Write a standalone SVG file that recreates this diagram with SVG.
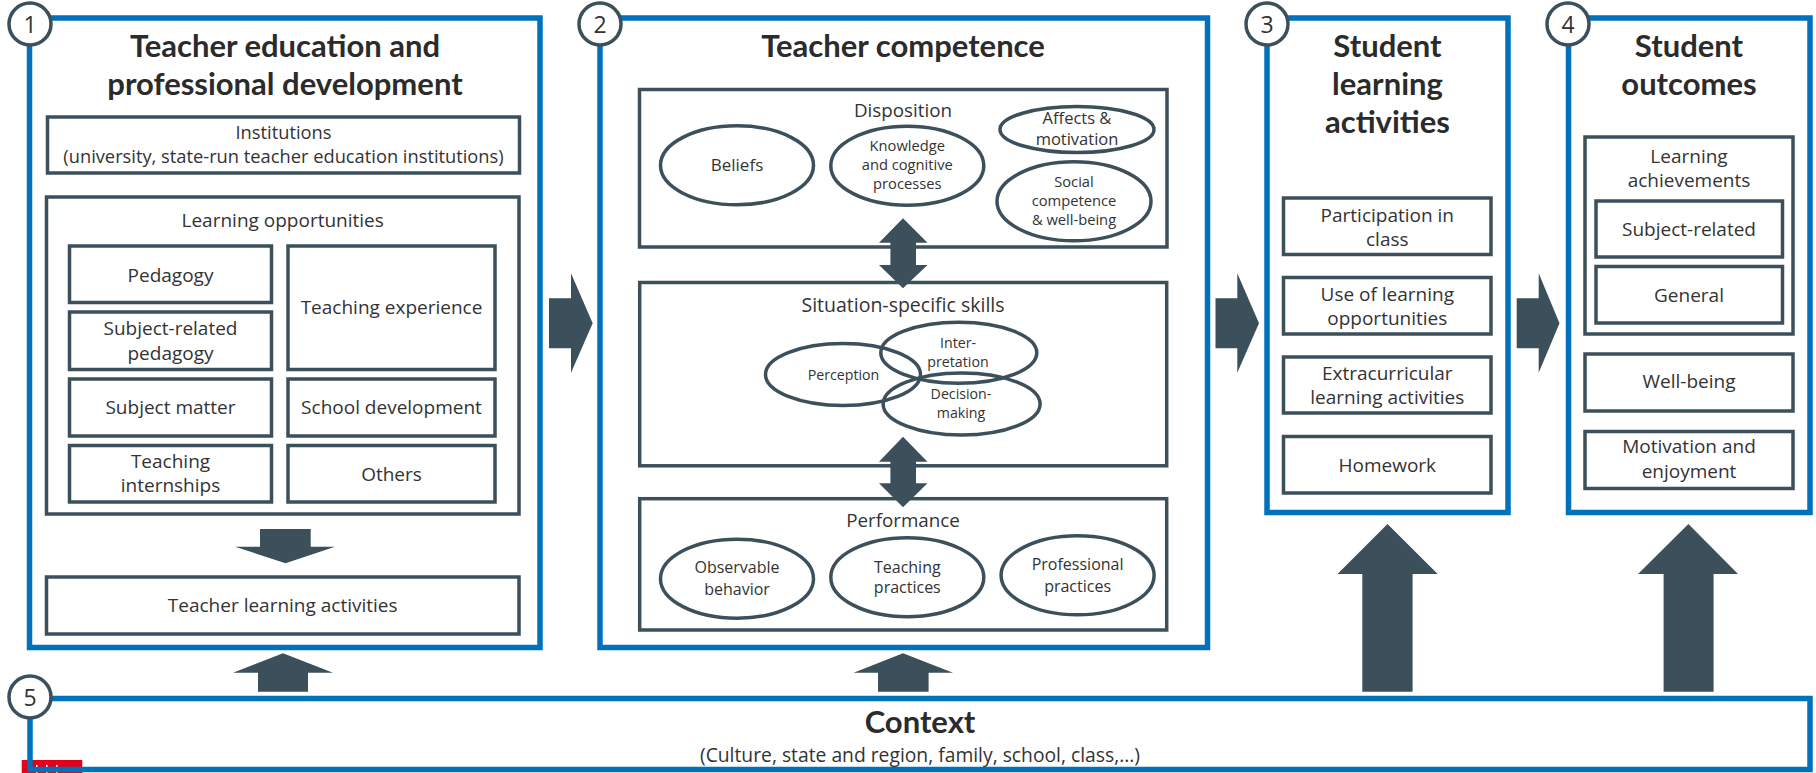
<svg xmlns="http://www.w3.org/2000/svg" width="1816" height="773" viewBox="0 0 1816 773">
  <style>
    .panel { fill: #fff; stroke: #0071bb; stroke-width: 5.5; }
    .box { fill: #fff; stroke: #3c505b; stroke-width: 3.5; }
    .oval { fill: none; stroke: #3c505b; stroke-width: 3.5; }
    .badge { fill: #fff; stroke: #3c505b; stroke-width: 3.5; }
    .arrow { fill: #3c505b; }
    text { font-family: "Open Sans", Lato, "Liberation Sans", sans-serif; fill: #333; text-anchor: middle; }
    .title { font-family: Lato, "Open Sans", sans-serif; font-size: 31px; font-weight: bold; fill: #2b2b2b; }
    .num { font-size: 23px; }
    .lbl { font-size: 19px; }
    .lbl-long { font-size: 18.3px; }
    .sec { font-size: 18.8px; }
    .sec-wide { font-size: 19.5px; }
    .ctx { font-size: 19.3px; }
    .big { font-size: 17px; }
    .md { font-size: 16px; }
    .af { font-size: 16.5px; }
    .sm { font-size: 14.7px; }
    .xs { font-size: 14.2px; }
  </style>

  <!-- logo strip at the bottom-left corner -->
  <g id="logo">
    <rect x="21.7" y="760" width="60.6" height="13" fill="#e3001b"/>
    <rect x="36" y="765" width="1.6" height="8" fill="#fff"/>
    <rect x="46" y="765" width="1.6" height="8" fill="#fff"/>
    <rect x="56" y="765" width="1.6" height="8" fill="#fff"/>
  </g>

  <!-- connectors: block arrows -->
  <g id="connectors">
    <!-- 1 -> 2 -->
    <polygon class="arrow" points="549,298.3 571,298.3 571,273.3 592.7,323.3 571,372.7 571,348.3 549,348.3"/>
    <!-- 2 -> 3 -->
    <polygon class="arrow" points="1215.5,298.3 1237.3,298.3 1237.3,273.3 1259,323.3 1237.3,372.7 1237.3,348.3 1215.5,348.3"/>
    <!-- 3 -> 4 -->
    <polygon class="arrow" points="1516.7,298.3 1538.7,298.3 1538.7,273.3 1559.5,323.3 1538.7,372.7 1538.7,348.3 1516.7,348.3"/>
    <!-- context -> panels -->
    <polygon class="arrow" points="258,691.7 308,691.7 308,672.7 333,672.7 283,653.3 233,672.7 258,672.7"/>
    <polygon class="arrow" points="878,691.7 928.6,691.7 928.6,672.7 953,672.7 903,653.3 853.6,672.7 878,672.7"/>
    <polygon class="arrow" points="1362.3,691.7 1412.6,691.7 1412.6,574 1437.7,574 1387.5,524 1337.5,574 1362.3,574"/>
    <polygon class="arrow" points="1663.6,691.7 1713.6,691.7 1713.6,574 1738,574 1688.4,524 1638,574 1663.6,574"/>
  </g>

  <!-- 1: Teacher education and professional development -->
  <g id="panel1">
    <rect class="panel" x="29.5" y="18" width="510.5" height="629.5"/>
    <text class="title" x="285" y="57">Teacher education and</text>
    <text class="title" x="285" y="95">professional development</text>
    <rect class="box" x="47.5" y="117" width="472" height="56"/>
    <text class="lbl-long" x="283.5" y="139">Institutions</text>
    <text class="lbl-long" x="283.5" y="162.8">(university, state-run teacher education institutions)</text>

    <rect class="box" x="46.5" y="197" width="472.5" height="317"/>
    <text class="lbl" x="282.7" y="226.7">Learning opportunities</text>
    <rect class="box" x="69.5" y="246" width="202" height="56.5"/>
    <text class="lbl" x="170.5" y="281.7">Pedagogy</text>
    <rect class="box" x="69.5" y="312" width="202" height="57.5"/>
    <text class="lbl" x="170.5" y="335">Subject-related</text>
    <text class="lbl" x="170.5" y="360">pedagogy</text>
    <rect class="box" x="69.5" y="379" width="202" height="57"/>
    <text class="lbl" x="170.5" y="414">Subject matter</text>
    <rect class="box" x="69.5" y="445.5" width="202" height="56.5"/>
    <text class="lbl" x="170.5" y="468">Teaching</text>
    <text class="lbl" x="170.5" y="491.7">internships</text>
    <rect class="box" x="288" y="246" width="207" height="123.5"/>
    <text class="lbl" x="391.5" y="314">Teaching experience</text>
    <rect class="box" x="288" y="379" width="207" height="57"/>
    <text class="lbl" x="391.5" y="414">School development</text>
    <rect class="box" x="288" y="445.5" width="207" height="56.5"/>
    <text class="lbl" x="391.5" y="480.7">Others</text>

    <polygon class="arrow" points="260,529 310.7,529 310.7,546.7 335,546.7 285.5,563.3 235,546.7 260,546.7"/>
    <rect class="box" x="46.5" y="577" width="472.5" height="57"/>
    <text class="lbl" x="282.7" y="611.7">Teacher learning activities</text>
    <circle class="badge" cx="30" cy="24" r="21"/>
    <text class="num" x="30" y="32.5">1</text>
  </g>

  <!-- 2: Teacher competence -->
  <g id="panel2">
    <rect class="panel" x="600" y="18" width="607.5" height="629.5"/>
    <text class="title" x="903" y="56.7">Teacher competence</text>

    <rect class="box" x="639.5" y="89.5" width="527.5" height="157.5"/>
    <text class="sec" x="903" y="117.3">Disposition</text>
    <ellipse class="oval" cx="737" cy="165.3" rx="76.5" ry="39.5"/>
    <text class="big" x="737" y="171">Beliefs</text>
    <ellipse class="oval" cx="907.3" cy="165.7" rx="76.5" ry="39.5"/>
    <text class="sm" x="907.3" y="150.7">Knowledge</text>
    <text class="sm" x="907.3" y="170">and cognitive</text>
    <text class="sm" x="907.3" y="189">processes</text>
    <ellipse class="oval" cx="1077" cy="129.5" rx="77" ry="23"/>
    <text class="af" x="1077" y="124">Affects &amp;</text>
    <text class="af" x="1077" y="145">motivation</text>
    <ellipse class="oval" cx="1074" cy="201.3" rx="77" ry="39.5"/>
    <text class="sm" x="1074" y="186.7">Social</text>
    <text class="sm" x="1074" y="206">competence</text>
    <text class="sm" x="1074" y="225">&amp; well-being</text>

    <rect class="box" x="639.7" y="282.5" width="527" height="183.3"/>
    <text class="sec-wide" x="903" y="311.7">Situation-specific skills</text>
    <ellipse class="oval" cx="843" cy="374.5" rx="77.5" ry="31"/>
    <ellipse class="oval" cx="958.8" cy="352.8" rx="78" ry="30.5"/>
    <ellipse class="oval" cx="961.6" cy="404" rx="78.5" ry="31"/>
    <text class="xs" x="843.5" y="380">Perception</text>
    <text class="xs" x="958" y="348.3">Inter-</text>
    <text class="xs" x="958" y="366.7">pretation</text>
    <text class="xs" x="961" y="399">Decision-</text>
    <text class="xs" x="961" y="417.7">making</text>

    <rect class="box" x="639.7" y="498.7" width="527" height="131.3"/>
    <text class="sec" x="903" y="527.3">Performance</text>
    <ellipse class="oval" cx="737" cy="578.7" rx="76.5" ry="39.5"/>
    <text class="md" x="737" y="573.3">Observable</text>
    <text class="md" x="737" y="595">behavior</text>
    <ellipse class="oval" cx="907.3" cy="577.2" rx="76.5" ry="39.5"/>
    <text class="md" x="907.3" y="572.7">Teaching</text>
    <text class="md" x="907.3" y="593.3">practices</text>
    <ellipse class="oval" cx="1077.6" cy="575.3" rx="76.5" ry="39.5"/>
    <text class="md" x="1077.6" y="570">Professional</text>
    <text class="md" x="1077.6" y="591.7">practices</text>

    <!-- two-way links between the competence layers -->
    <polygon class="arrow" points="903,218.3 927.5,242.7 916,242.7 916,265 927.5,265 903,288.3 879,265 890.4,265 890.4,242.7 879,242.7"/>
    <polygon class="arrow" points="903,436.7 927.5,461.7 916,461.7 916,483.3 927.5,483.3 903,507.3 879,483.3 890.4,483.3 890.4,461.7 879,461.7"/>
    <circle class="badge" cx="600" cy="24" r="21"/>
    <text class="num" x="600" y="32.5">2</text>
  </g>

  <!-- 3: Student learning activities -->
  <g id="panel3">
    <rect class="panel" x="1267" y="18" width="241" height="494.5"/>
    <text class="title" x="1387.5" y="56.7">Student</text>
    <text class="title" x="1387.5" y="95">learning</text>
    <text class="title" x="1387.5" y="132.7">activities</text>
    <rect class="box" x="1283.5" y="198" width="207.5" height="56.5"/>
    <text class="lbl" x="1387.3" y="221.7">Participation in</text>
    <text class="lbl" x="1387.3" y="246">class</text>
    <rect class="box" x="1283.5" y="277.5" width="207.5" height="56.5"/>
    <text class="lbl" x="1387.3" y="300.7">Use of learning</text>
    <text class="lbl" x="1387.3" y="325">opportunities</text>
    <rect class="box" x="1283.5" y="357" width="207.5" height="56"/>
    <text class="lbl" x="1387.3" y="380">Extracurricular</text>
    <text class="lbl" x="1387.3" y="404.3">learning activities</text>
    <rect class="box" x="1283.5" y="436.5" width="207.5" height="56.5"/>
    <text class="lbl" x="1387.3" y="471.7">Homework</text>
    <circle class="badge" cx="1267" cy="24" r="21"/>
    <text class="num" x="1267" y="32.5">3</text>
  </g>

  <!-- 4: Student outcomes -->
  <g id="panel4">
    <rect class="panel" x="1568.5" y="18" width="241.5" height="494.5"/>
    <text class="title" x="1689" y="56.7">Student</text>
    <text class="title" x="1689" y="95">outcomes</text>
    <rect class="box" x="1585" y="137" width="208" height="197"/>
    <text class="lbl" x="1689" y="163.3">Learning</text>
    <text class="lbl" x="1689" y="186.7">achievements</text>
    <rect class="box" x="1596" y="201" width="186.5" height="56"/>
    <text class="lbl" x="1689" y="236">Subject-related</text>
    <rect class="box" x="1596" y="266.5" width="186.5" height="56.5"/>
    <text class="lbl" x="1689" y="301.7">General</text>
    <rect class="box" x="1585" y="354" width="208" height="57"/>
    <text class="lbl" x="1689" y="388.3">Well-being</text>
    <rect class="box" x="1585" y="431.5" width="208" height="57"/>
    <text class="lbl" x="1689" y="453.3">Motivation and</text>
    <text class="lbl" x="1689" y="478.3">enjoyment</text>
    <circle class="badge" cx="1568" cy="24" r="21"/>
    <text class="num" x="1568" y="32.5">4</text>
  </g>

  <!-- 5: Context -->
  <g id="panel5">
    <rect class="panel" x="30" y="698.5" width="1780" height="71" style="fill:none"/>
    <text class="title" x="920" y="732.7">Context</text>
    <text class="ctx" x="920" y="761.7">(Culture, state and region, family, school, class,...)</text>
    <circle class="badge" cx="30" cy="697" r="21"/>
    <text class="num" x="30" y="705.5">5</text>
  </g>
</svg>
